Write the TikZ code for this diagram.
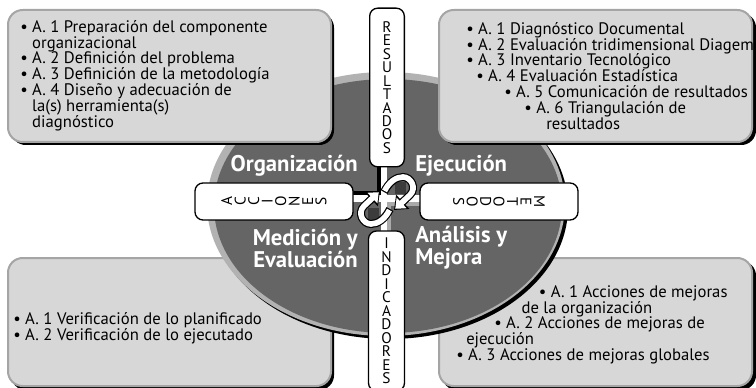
\documentclass[tikz,border=0pt]{standalone}
\usepackage{fontspec}
\setmainfont{PT Sans}
\usepackage{tikz}
\usetikzlibrary{arrows.meta}
\usetikzlibrary{positioning}

\definecolor{boxgray}{RGB}{215,215,215}
\definecolor{edgegray}{RGB}{165,165,165}
\definecolor{ovalgray}{RGB}{101,101,101}
\definecolor{rimgray}{RGB}{178,178,178}
\definecolor{crossgray}{RGB}{170,170,170}
\definecolor{loopgray}{RGB}{60,60,60}

\begin{document}
\begin{tikzpicture}[x=0.75pt, y=-0.75pt, >=latex, auto]

    \tikzstyle{phaseshadow}=[fill=black, rounded corners=11pt];
    \tikzstyle{phasebox}=[fill=boxgray, draw=edgegray, line width=1.5pt, rounded corners=11pt];
    \tikzstyle{phasetext}=[anchor=north west, align=left, inner sep=0pt, font=\fontsize{12.5}{11.9}\selectfont];
    \tikzstyle{axisbox}=[draw, fill=white, line width=1pt, rounded corners=6pt, align=center, inner sep=0pt, font=\fontsize{11.5}{10.1}\selectfont];
    \tikzstyle{phaselabel}=[text=white, inner sep=0pt, font=\fontsize{17}{15}\selectfont\bfseries];
    \tikzstyle{cycleout}=[line width=6pt, -{Triangle[length=9pt, width=14pt]}];
    \tikzstyle{cyclein}=[white, line width=4.2pt, shorten <=0.9pt, shorten >=1.3pt, -{Triangle[length=6.5pt, width=10.5pt]}];

    \useasboundingbox (0,0) rectangle (756,388);

    % lower boxes, under the oval
    \fill [phaseshadow] (11,261) rectangle (334,390);
    \draw [phasebox] (8,258) rectangle (331,386);
    \fill [phaseshadow] (442,261) rectangle (756,390);
    \draw [phasebox] (439,258) rectangle (752,386);

    % oval
    \fill [black] (389,207) ellipse (179 and 132);
    \fill [rimgray] (386,204) ellipse (179 and 132);
    \fill [ovalgray] (388,206) ellipse (174 and 127);

    % upper boxes, over the oval
    \fill [phaseshadow] (11,13) rectangle (334,145);
    \draw [phasebox] (8,10) rectangle (331,142);
    \fill [phaseshadow] (442,13) rectangle (756,145);
    \draw [phasebox] (439,10) rectangle (752,142);

    % cross in the middle
    \fill [black] (377,167) rectangle (381,195);
    \fill [black] (353,191) rectangle (381,195);
    \fill [crossgray] (387,202) rectangle (391,236);
    \fill [crossgray] (387,202) rectangle (420,206);
    \fill [white] (381,167) rectangle (387,236);
    \fill [white] (353,195) rectangle (420,202);
    \fill [loopgray] (395,182) rectangle (406,194);
    \fill [loopgray] (368,208) rectangle (379,220);

    \node [axisbox, minimum width=26pt, minimum height=119pt] (results) at (387,87.5) {R\\E\\S\\U\\L\\T\\A\\D\\O\\S};
    \node [axisbox, minimum width=27pt, minimum height=120pt] (indicators) at (386.5,311) {I\\N\\D\\I\\C\\A\\D\\O\\R\\E\\S};
    \node [axisbox, minimum width=27.75pt, minimum height=118.5pt, rotate=90] (actions) at (274,201.5) {A\\C\\C\\I\\O\\N\\E\\S};
    \node [axisbox, minimum width=27.75pt, minimum height=118.5pt, rotate=-90] (methods) at (499,201.5) {M\\E\\T\\O\\D\\O\\S};

    \node [phaselabel, anchor=base east] (organization) at (358,172) {Organización};
    \node [phaselabel, anchor=base west] (execution) at (415,172) {Ejecución};
    \node [phaselabel, align=right, anchor=north east] (measurement) at (358,229) {Medición y\\Evaluación};
    \node [phaselabel, align=left, anchor=north west] (analysis) at (415,226) {Análisis y\\Mejora};

    % cycle arrows
    \draw [cycleout] (384,192) .. controls (389,182) and (396,177) .. (403,177) .. controls (411,177) and (417,188) .. (410,195) -- (394,210);
    \draw [cyclein] (384,192) .. controls (389,182) and (396,177) .. (403,177) .. controls (411,177) and (417,188) .. (410,195) -- (394,210);
    \draw [cycleout] (390,209) .. controls (385,219) and (378,224) .. (371,224) .. controls (363,224) and (357,213) .. (364,206) -- (380,191);
    \draw [cyclein] (390,209) .. controls (385,219) and (378,224) .. (371,224) .. controls (363,224) and (357,213) .. (364,206) -- (380,191);

    \node [phasetext] (orgtext) at (20,20) {\textbullet\ A. 1 Preparación del componente\\
        \phantom{\textbullet\ }organizacional\\
        \textbullet\ A. 2 Definición del problema\\
        \textbullet\ A. 3 Definición de la metodología\\
        \textbullet\ A. 4 Diseño y adecuación de\\
        \phantom{\textbullet\ }la(s) herramienta(s)\\
        \phantom{\textbullet\ }diagnóstico};

    \node [phasetext] (exectext) at (466,22) {\textbullet\ A. 1 Diagnóstico Documental\\
        \textbullet\ A. 2 Evaluación tridimensional Diagem\\
        \textbullet\ A. 3 Inventario Tecnológico\\
        \hspace*{7.5pt}\textbullet\ A. 4 Evaluación Estadística\\
        \hspace*{28.5pt}\textbullet\ A. 5 Comunicación de resultados\\
        \hspace*{43.5pt}\textbullet\ A. 6 Triangulación de\\
        \hspace*{60pt}resultados};

    \node [phasetext] (measuretext) at (13,312) {\textbullet\ A. 1 Verificación de lo planificado\\
        \textbullet\ A. 2 Verificación de lo ejecutado};

    \node [phasetext] (improvetext) at (456,285) {\hspace*{62pt}\textbullet\ A. 1 Acciones de mejoras\\
        \hspace*{49pt}de la organización\\
        \hspace*{28.5pt}\textbullet\ A. 2 Acciones de mejoras de\\
        \hspace*{7.5pt}ejecución\\
        \textbullet\ A. 3 Acciones de mejoras globales};

\end{tikzpicture}
\end{document}
